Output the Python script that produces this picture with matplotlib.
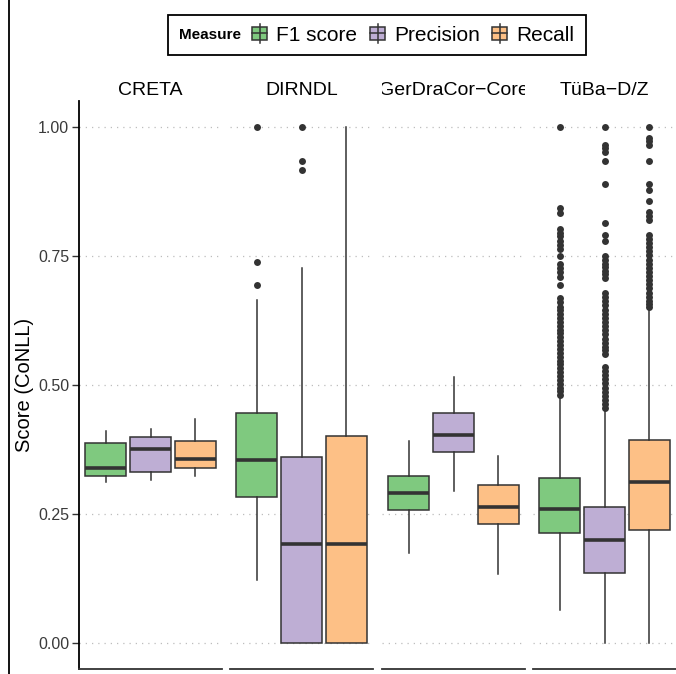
import matplotlib
matplotlib.use("Agg")
import matplotlib.pyplot as plt
from matplotlib.lines import Line2D
from matplotlib.patches import Rectangle
from matplotlib.ticker import FormatStrFormatter
from matplotlib.transforms import Bbox, TransformedBbox

plt.rcParams['font.family'] = ['Liberation Sans', 'DejaVu Sans']

datasets = ["CRETA", "DIRNDL", "GerDraCor\u2212Core", "TüBa\u2212D/Z"]
measures = ["F1 score", "Precision", "Recall"]
colors = ["#7FC97F", "#BEAED4", "#FDC086"]

# box summaries, one value per dataset
f1_whislo = [0.312, 0.122, 0.174, 0.065]
f1_q1 = [0.324, 0.284, 0.258, 0.214]
f1_med = [0.339, 0.355, 0.291, 0.260]
f1_q3 = [0.388, 0.446, 0.324, 0.320]
f1_whishi = [0.411, 0.665, 0.391, 0.478]

prec_whislo = [0.316, 0.0, 0.295, 0.0]
prec_q1 = [0.331, 0.0, 0.370, 0.136]
prec_med = [0.376, 0.192, 0.403, 0.200]
prec_q3 = [0.399, 0.360, 0.446, 0.264]
prec_whishi = [0.415, 0.726, 0.516, 0.452]

rec_whislo = [0.324, 0.0, 0.134, 0.0]
rec_q1 = [0.339, 0.0, 0.231, 0.220]
rec_med = [0.357, 0.192, 0.264, 0.312]
rec_q3 = [0.391, 0.402, 0.306, 0.394]
rec_whishi = [0.434, 1.0, 0.362, 0.650]

# outliers
f1_fliers = [
    [],
    [1.0, 0.738, 0.693],
    [],
    [1.0, 0.842, 0.833, 0.802, 0.795, 0.788, 0.779, 0.771, 0.763, 0.750,
     0.734, 0.726, 0.718, 0.710, 0.694, 0.668, 0.660, 0.652, 0.645, 0.637,
     0.630, 0.622, 0.615, 0.607, 0.600, 0.592, 0.585, 0.577, 0.570, 0.562,
     0.555, 0.547, 0.540, 0.532, 0.525, 0.517, 0.510, 0.502, 0.495, 0.488,
     0.481],
]
prec_fliers = [
    [],
    [1.0, 0.933, 0.916],
    [],
    [1.0, 0.965, 0.959, 0.952, 0.933, 0.890, 0.813, 0.791, 0.778, 0.749,
     0.742, 0.735, 0.728, 0.721, 0.714, 0.707, 0.678, 0.670, 0.662, 0.654,
     0.646, 0.638, 0.630, 0.622, 0.614, 0.606, 0.598, 0.590, 0.582, 0.574,
     0.567, 0.561, 0.535, 0.527, 0.519, 0.511, 0.503, 0.495, 0.487, 0.479,
     0.471, 0.463, 0.455],
]
rec_fliers = [
    [],
    [],
    [],
    [1.0, 0.978, 0.972, 0.965, 0.933, 0.890, 0.878, 0.857, 0.836, 0.828,
     0.820, 0.791, 0.783, 0.775, 0.767, 0.759, 0.751, 0.743, 0.735, 0.727,
     0.719, 0.711, 0.703, 0.695, 0.687, 0.679, 0.671, 0.663, 0.656, 0.652],
]

series = [
    (f1_whislo, f1_q1, f1_med, f1_q3, f1_whishi, f1_fliers),
    (prec_whislo, prec_q1, prec_med, prec_q3, prec_whishi, prec_fliers),
    (rec_whislo, rec_q1, rec_med, rec_q3, rec_whishi, rec_fliers),
]

W, H = 676, 674
fig = plt.figure(figsize=(W / 100, H / 100), dpi=100)

def fx(x):
    return x / W

def fy(y):
    return 1 - y / H

dark = "#333333"
panel_left = [79, 230, 382, 533]
panel_w, panel_top, panel_bot = 143, 101, 669

for i, name in enumerate(datasets):
    ax = fig.add_axes([fx(panel_left[i]), fy(panel_bot), panel_w / W, (panel_bot - panel_top) / H])
    stats = []
    for lo, q1, med, q3, hi, fl in series:
        stats.append(dict(whislo=lo[i], q1=q1[i], med=med[i], q3=q3[i], whishi=hi[i], fliers=fl[i]))
    bp = ax.bxp(stats, positions=[-1, 0, 1], widths=0.9, patch_artist=True, showcaps=False,
                boxprops=dict(edgecolor=dark, linewidth=1.1),
                medianprops=dict(color=dark, linewidth=2.6, solid_capstyle='butt'),
                whiskerprops=dict(color=dark, linewidth=1.1),
                flierprops=dict(marker='o', markerfacecolor=dark, markeredgecolor=dark,
                                markeredgewidth=0, markersize=5))
    for patch, c in zip(bp['boxes'], colors):
        patch.set_facecolor(c)

    ax.set_xlim(-1.59, 1.59)
    ax.set_ylim(-0.05, 1.05)
    ax.set_xticks([])
    ax.set_yticks([0, 0.25, 0.5, 0.75, 1.0])
    ax.yaxis.set_major_formatter(FormatStrFormatter('%.2f'))
    ax.yaxis.grid(True, linestyle=(0, (1, 4)), color='#BDBDBD', linewidth=0.9)
    ax.set_axisbelow(True)
    ax.patch.set_visible(False)
    for s in ['top', 'right']:
        ax.spines[s].set_visible(False)
    ax.spines['bottom'].set_color(dark)
    ax.spines['bottom'].set_linewidth(1.3)
    if i == 0:
        ax.spines['left'].set_color('black')
        ax.spines['left'].set_linewidth(1.3)
        ax.tick_params(axis='y', length=5, width=1, color=dark, labelsize=11.5,
                       labelcolor='#3a3a3a', pad=2)
    else:
        ax.spines['left'].set_visible(False)
        ax.tick_params(axis='y', length=0, labelleft=False)

    # strip label, clipped to panel width
    t = ax.text(0.5, (panel_bot - 95) / (panel_bot - panel_top), name, transform=ax.transAxes,
                ha='center', va='baseline', fontsize=14, color='black')
    t.set_clip_box(TransformedBbox(Bbox([[0, 1], [1, 1.2]]), ax.transAxes))
    t.set_clip_on(True)

fig.text(fx(24), fy((panel_top + panel_bot) / 2), "Score (CoNLL)", rotation=90,
         ha='center', va='center', fontsize=14.5)

# legend
fig.add_artist(Rectangle((fx(168), fy(55)), fx(586) - fx(168), fy(15) - fy(55),
                         transform=fig.transFigure, fill=False, edgecolor='black', linewidth=1.3))
fig.text(fx(179), fy(39), "Measure", fontsize=11, fontweight='bold', va='baseline', ha='left')
key_x = [252, 370, 492]
for kx, lab, c in zip(key_x, measures, colors):
    fig.add_artist(Line2D([fx(kx + 7.5), fx(kx + 7.5)], [fy(24), fy(43)], transform=fig.transFigure,
                          color=dark, linewidth=1.1))
    fig.add_artist(Rectangle((fx(kx), fy(39.5)), 15 / W, 12.5 / H, transform=fig.transFigure,
                             facecolor=c, edgecolor=dark, linewidth=1.1))
    fig.add_artist(Line2D([fx(kx), fx(kx + 15)], [fy(33.2), fy(33.2)], transform=fig.transFigure,
                          color=dark, linewidth=1.1))
    fig.text(fx(kx + 24), fy(41), lab, fontsize=15, va='baseline', ha='left')

# left border line
fig.add_artist(Line2D([fx(9), fx(9)], [0, 1], transform=fig.transFigure, color='black', linewidth=1.3))

fig.savefig("out.png", dpi=100)
